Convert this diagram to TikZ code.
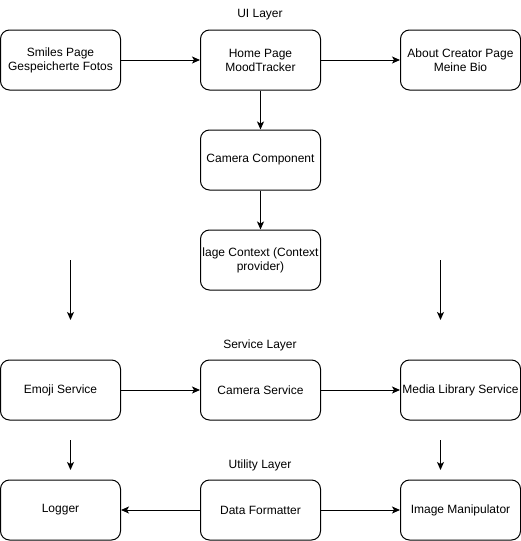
\documentclass[tikz,border=0pt]{standalone}
\usepackage{fontspec}
\setmainfont{Liberation Sans}
\usetikzlibrary{arrows.meta}
\begin{document}
\begin{tikzpicture}[x=1pt,y=-1pt,
  box/.style={draw,line width=1pt,rounded corners=9pt,minimum width=120pt,minimum height=60pt,inner sep=0pt,align=center,font=\fontsize{12}{14}\selectfont},
  lbl/.style={font=\fontsize{12}{14}\selectfont},
  conn/.style={line width=1pt,-{Stealth[length=8pt,width=7pt,inset=2pt]}}]
\useasboundingbox (0,0) rectangle (521,541);
\node[lbl] (ui) at (260,15) {UI Layer};
\node[lbl] (sl) at (260,345) {Service Layer};
\node[lbl] (ul) at (260,465) {Utility Layer};
\node[box] (smiles) at (60.5,60) {Smiles Page\\Gespeicherte Fotos};
\node[box] (home) at (260.5,60) {Home Page\\MoodTracker};
\node[box] (about) at (460.5,60) {About Creator Page\\Meine Bio};
\node[box] (cam) at (260.5,160) {Camera Component};
\node[box] (ctx) at (260.5,260) {lage Context (Context\\provider)};
\node[box] (emoji) at (60.5,390) {Emoji Service};
\node[box] (cams) at (260.5,390) {Camera Service};
\node[box] (media) at (460.5,390) {Media Library Service};
\node[box] (logger) at (60.5,510) {Logger};
\node[box] (fmt) at (260.5,510) {Data Formatter};
\node[box] (img) at (460.5,510) {Image Manipulator};
\coordinate (a1s) at (70.5,260);
\coordinate (a1e) at (70.5,320);
\coordinate (a2s) at (440.5,260);
\coordinate (a2e) at (440.5,320);
\coordinate (b1s) at (70.5,440);
\coordinate (b1e) at (70.5,470);
\coordinate (b2s) at (440.5,440);
\coordinate (b2e) at (440.5,470);
\draw[conn] (smiles) -- (home);
\draw[conn] (home) -- (about);
\draw[conn] (home) -- (cam);
\draw[conn] (cam) -- (ctx);
\draw[conn] (a1s) -- (a1e);
\draw[conn] (a2s) -- (a2e);
\draw[conn] (emoji) -- (cams);
\draw[conn] (cams) -- (media);
\draw[conn] (b1s) -- (b1e);
\draw[conn] (b2s) -- (b2e);
\draw[conn] (fmt) -- (logger);
\draw[conn] (fmt) -- (img);
\end{tikzpicture}
\end{document}
